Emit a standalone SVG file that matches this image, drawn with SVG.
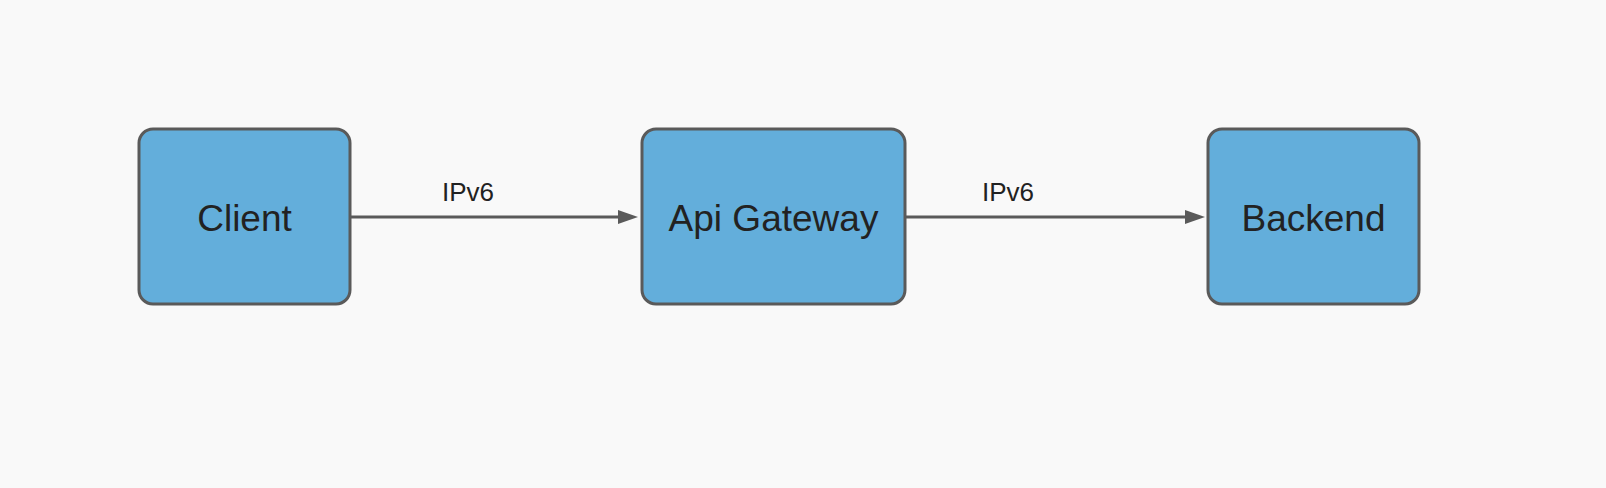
<svg xmlns="http://www.w3.org/2000/svg" width="1606" height="488" viewBox="0 0 1606 488">
<style>
.node rect{fill:#63aedb;stroke:#5a5a5a;stroke-width:3}
.node text{font-family:"Liberation Sans",Arial,sans-serif;font-size:37px;fill:#222;text-anchor:middle}
.edge line{stroke:#5a5a5a;stroke-width:3}
.lbl{font-family:"Liberation Sans",Arial,sans-serif;font-size:26px;fill:#222;text-anchor:middle}
</style>
<defs>
<marker id="ah" markerWidth="20" markerHeight="16" refX="10" refY="8" orient="auto" markerUnits="userSpaceOnUse">
<path d="M0,1 L20,8 L0,15 Z" fill="#5a5a5a"/>
</marker>
</defs>
<rect width="1606" height="488" fill="#f9f9f9"/>
<g id="connectors" class="edge">
<line x1="351" y1="217" x2="628" y2="217" marker-end="url(#ah)"/>
<text class="lbl" x="468" y="201">IPv6</text>
<line x1="906" y1="217" x2="1195" y2="217" marker-end="url(#ah)"/>
<text class="lbl" x="1008" y="201">IPv6</text>
</g>
<g id="client" class="node">
<rect x="139" y="129" width="211" height="175" rx="14"/>
<text x="244.5" y="231">Client</text>
</g>
<g id="api-gateway" class="node">
<rect x="642" y="129" width="263" height="175" rx="14"/>
<text x="773.5" y="231">Api Gateway</text>
</g>
<g id="backend" class="node">
<rect x="1208" y="129" width="211" height="175" rx="14"/>
<text x="1313.5" y="231">Backend</text>
</g>
</svg>
